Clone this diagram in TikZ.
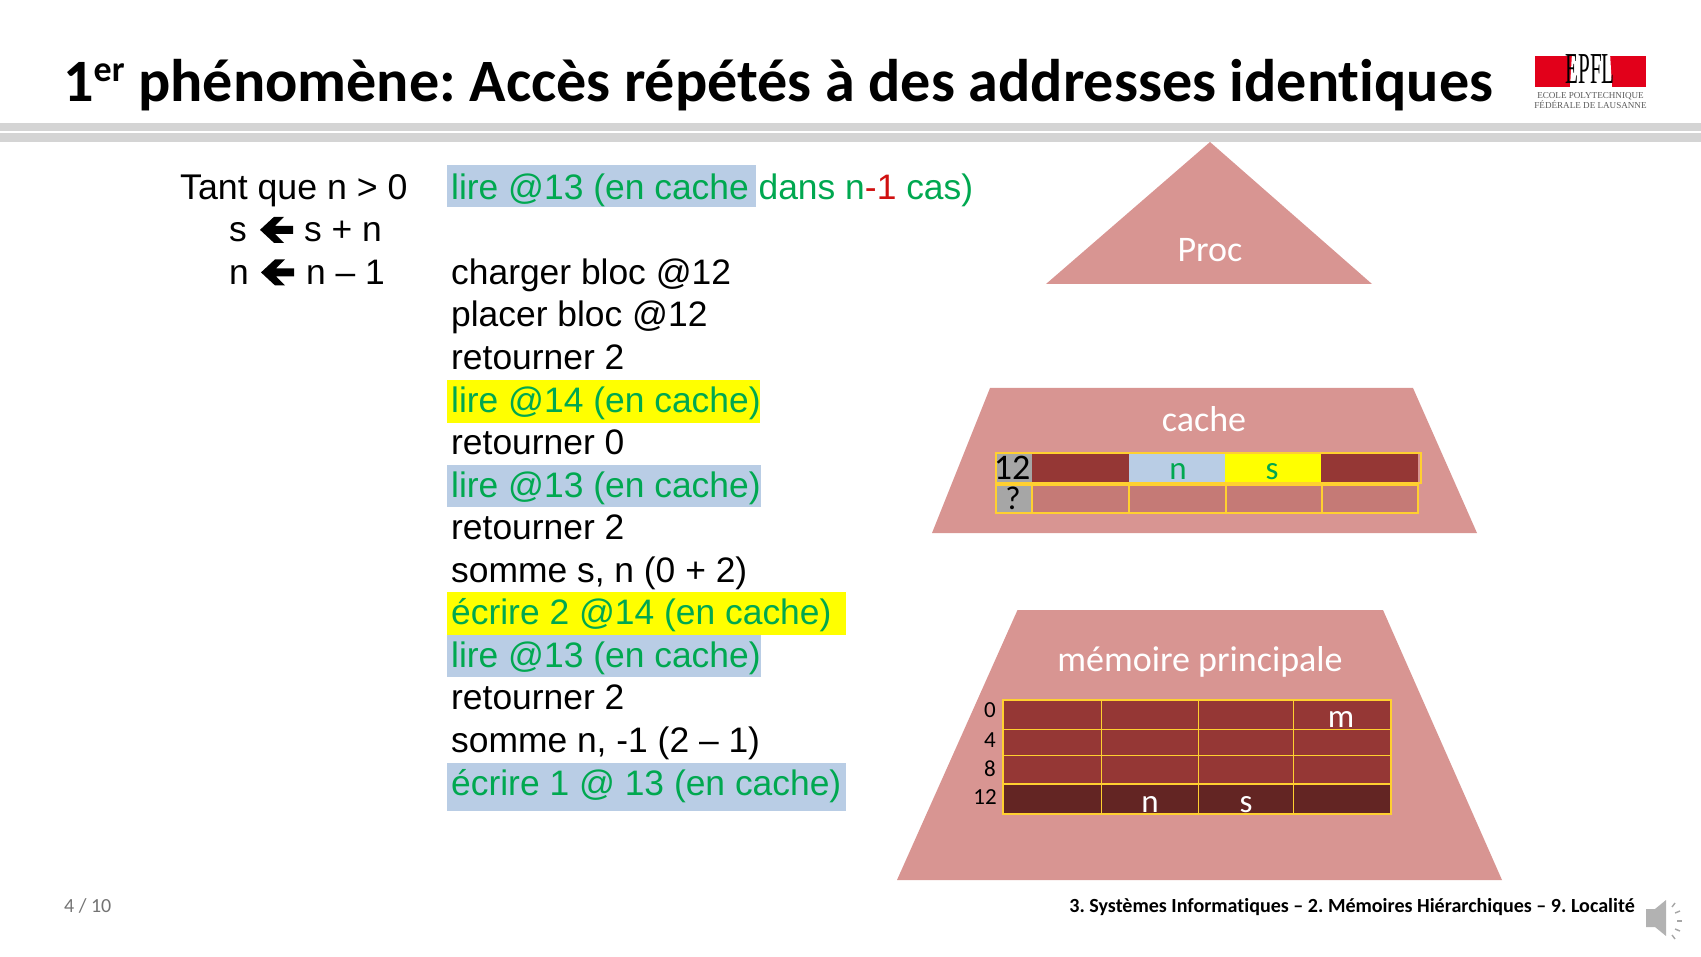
\documentclass[tikz,border=0pt]{standalone}
\usepackage{fontspec}
\setmainfont{Liberation Sans}
\newfontfamily\calfont[Ligatures=CommonOff]{Carlito}
\newfontfamily\logofont{Liberation Serif}
\definecolor{pink}{HTML}{D89592}
\definecolor{dred}{HTML}{953735}
\definecolor{ddred}{HTML}{632523}
\definecolor{pale}{HTML}{C57A76}
\definecolor{hblue}{HTML}{B9CDE5}
\definecolor{hyellow}{HTML}{FFFF00}
\definecolor{tgreen}{HTML}{00A850}
\definecolor{tred}{HTML}{D01010}
\definecolor{gold}{HTML}{FFD030}
\definecolor{bar}{HTML}{D4D4D4}
\definecolor{egray}{HTML}{A6A6A6}
\definecolor{epred}{HTML}{E2001A}
\tikzset{
 x=1pt,y=-1pt,
 code/.style={anchor=base west,inner sep=0pt,font=\fontsize{35.4}{36}\selectfont},
 lay/.style={fill=pink,draw=none},
 cell/.style={draw=gold,line width=1.1pt},
 lab/.style={inner sep=0pt,text=white,font=\calfont\fontsize{36}{36}\selectfont},
 celltext/.style={inner sep=0pt,anchor=base,font=\calfont\fontsize{33}{33}\selectfont},
 num/.style={inner sep=0pt,anchor=base east,font=\calfont\fontsize{23}{23}\selectfont},
 arw/.style={fill=black,draw=none},
}
\newcommand{\rowy}[1]{\fpeval{199.3+42.55*#1}}
\begin{document}
\frenchspacing
\begin{tikzpicture}
\useasboundingbox (0,0) rectangle (1701,957);
% title and bars
\node[anchor=base west,inner sep=0pt,font=\calfont\bfseries\fontsize{60.15}{60}\selectfont] (title) at (63,101.5) {1\raisebox{0.33em}{\fontsize{36}{36}\selectfont er} phénomène: Accès répétés à des addresses identiques};
\fill[bar] (0,123) rectangle (1701,131);
\fill[bar] (0,133) rectangle (1701,142);
% logo
\fill[epred] (1535,56) rectangle (1646,87);
\fill[white] (1572,53) -- (1610,53) -- (1612,87) -- (1570,87) -- cycle;
\node[inner sep=0pt,font=\logofont\fontsize{34}{34}\selectfont,xscale=0.62,yscale=1.3,transform shape] (epfl) at (1590,69) {EPFL};
\node[inner sep=0pt,text=black!65,font=\logofont\fontsize{9.1}{9.1}\selectfont] (ep1) at (1590.5,96) {ECOLE POLYTECHNIQUE};
\node[inner sep=0pt,text=black!65,font=\logofont\fontsize{9.1}{9.1}\selectfont] (ep2) at (1590.5,105) {FÉDÉRALE DE LAUSANNE};
% highlights
\fill[hblue] (447,165) rectangle (756,207);
\fill[hyellow] (447,380) rectangle (760,423);
\fill[hblue] (447,465) rectangle (761,507);
\fill[hyellow] (447,592) rectangle (846,635);
\fill[hblue] (447,635) rectangle (761,677);
\fill[hblue] (447,763) rectangle (846,811);
% pseudo code
\node[code,font=\fontsize{35.7}{36}\selectfont] (w) at (180,\rowy{0}) {Tant que n > 0};
\node[code] (s1) at (229,\rowy{1}) {s};
\node[code] (s2) at (304,\rowy{1}) {s + n};
\node[code] (n1) at (229,\rowy{2}) {n};
\node[code] (n2) at (306,\rowy{2}) {n – 1};
\fill[arw] (260,\fpeval{\rowy{1}-12}) -- (274,\fpeval{\rowy{1}-25}) -- (284,\fpeval{\rowy{1}-25}) -- (275,\fpeval{\rowy{1}-16}) -- (293,\fpeval{\rowy{1}-16}) -- (293,\fpeval{\rowy{1}-8}) -- (275,\fpeval{\rowy{1}-8}) -- (284,\fpeval{\rowy{1}+1}) -- (274,\fpeval{\rowy{1}+1}) -- cycle;
\fill[arw] (261,\fpeval{\rowy{2}-12}) -- (275,\fpeval{\rowy{2}-25}) -- (285,\fpeval{\rowy{2}-25}) -- (276,\fpeval{\rowy{2}-16}) -- (294,\fpeval{\rowy{2}-16}) -- (294,\fpeval{\rowy{2}-8}) -- (276,\fpeval{\rowy{2}-8}) -- (285,\fpeval{\rowy{2}+1}) -- (275,\fpeval{\rowy{2}+1}) -- cycle;
% trace
\node[code,text=tgreen] (r0) at (451,\rowy{0}) {lire @13 (en cache dans n{\color{tred}-1} cas)};
\node[code] (r2) at (451,\rowy{2}) {charger bloc @12};
\node[code] (r3) at (451,\rowy{3}) {placer bloc @12};
\node[code] (r4) at (451,\rowy{4}) {retourner 2};
\node[code,text=tgreen] (r5) at (451,\rowy{5}) {lire @14 (en cache)};
\node[code] (r6) at (451,\rowy{6}) {retourner 0};
\node[code,text=tgreen] (r7) at (451,\rowy{7}) {lire @13 (en cache)};
\node[code] (r8) at (451,\rowy{8}) {retourner 2};
\node[code] (r9) at (451,\rowy{9}) {somme s, n (0 + 2)};
\node[code,text=tgreen] (r10) at (451,\rowy{10}) {écrire 2 @14 (en cache)};
\node[code,text=tgreen] (r11) at (451,\rowy{11}) {lire @13 (en cache)};
\node[code] (r12) at (451,\rowy{12}) {retourner 2};
\node[code] (r13) at (451,\rowy{13}) {somme n, -1 (2 – 1)};
\node[code,text=tgreen] (r14) at (451,\rowy{14}) {écrire 1 @ 13 (en cache)};
% processor
\fill[lay] (1210,142) -- (1372,284) -- (1046,284) -- cycle;
\node[lab] (proc) at (1210,250) {Proc};
% cache
\fill[lay] (990,388) -- (1413,388) -- (1477,533) -- (932,533) -- cycle;
\node[lab] (cache) at (1204,419) {cache};
\fill[egray] (996,453) rectangle (1032,513);
\fill[dred] (1032,453) rectangle (1129,483);
\fill[hblue] (1129,453) rectangle (1225,483);
\fill[hyellow] (1225,453) rectangle (1321,483);
\fill[dred] (1321,453) rectangle (1418,483);
\fill[pale] (1032,484) rectangle (1418,513);
\draw[cell] (996,453) rectangle (1421,483);
\draw[cell] (996,485) rectangle (1032,513);
\draw[cell] (1032,485) rectangle (1129,513);
\draw[cell] (1129,485) rectangle (1226,513);
\draw[cell] (1226,485) rectangle (1322,513);
\draw[cell] (1322,485) rectangle (1418,513);
\node[celltext,font=\calfont\fontsize{36}{36}\selectfont] (c12) at (1012,480) {12};
\node[celltext] (cq) at (1013,510) {?};
\node[celltext,text=tgreen] (cn) at (1178,480) {n};
\node[celltext,text=tgreen] (cs) at (1272,480) {s};
% main memory
\fill[lay] (1017.5,610) -- (1383,610) -- (1502,880) -- (897,880) -- cycle;
\node[lab] (mem) at (1200,662) {mémoire principale};
\fill[dred] (1003,700) rectangle (1391,784);
\fill[ddred] (1003,784) rectangle (1391,814);
\draw[cell] (1003,700) rectangle (1391,814);
\foreach \gx in {1101,1198,1293} \draw[draw=gold,line width=1pt] (\gx,700) -- (\gx,814);
\foreach \gy in {729,755} \draw[draw=gold,line width=1pt] (1003,\gy) -- (1391,\gy);
\draw[cell,line width=1.8pt] (1003,784) -- (1391,784);
\node[num] (m0) at (996,717) {0};
\node[num] (m4) at (996,747) {4};
\node[num] (m8) at (996,776) {8};
\node[num] (m12) at (997,804) {12};
\node[celltext,text=white] (mm) at (1341,727) {m};
\node[celltext,text=white] (mn) at (1150,812) {n};
\node[celltext,text=white] (ms) at (1246,812) {s};
% footer
\node[anchor=base west,inner sep=0pt,text=black!55,font=\calfont\fontsize{20}{20}\selectfont] (pg) at (64,912) {4 / 10};
\node[anchor=base east,inner sep=0pt,font=\calfont\bfseries\fontsize{20.05}{20}\selectfont] (foot) at (1635,912) {3. Systèmes Informatiques – 2. Mémoires Hiérarchiques – 9. Localité};
% speaker
\fill[black!30] (1646,909) -- (1655,909) -- (1666,900) -- (1666,936) -- (1655,927) -- (1646,927) -- cycle;
\foreach \ya/\yb/\xa/\xb in {907/903/1672/1675,913/911/1675/1680,921/921/1677/1682,929/931/1675/1680,935/939/1672/1675}
  \draw[black!35,line width=1.4pt] (\xa,\ya) -- (\xb,\yb);
\end{tikzpicture}
\end{document}
